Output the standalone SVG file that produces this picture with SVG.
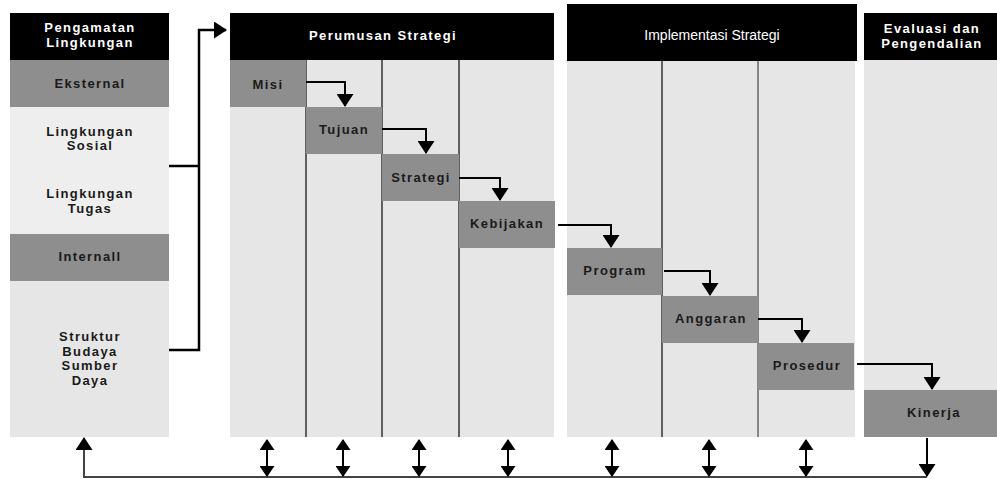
<svg xmlns="http://www.w3.org/2000/svg" width="997" height="479" viewBox="0 0 997 479">
<style>
.hdr{fill:#000}
.dk{fill:#8e8e8e}
.lt{fill:#e6e6e6}
.lt2{fill:#eeeeee}
.t{font-family:"Liberation Sans",Arial,sans-serif;font-weight:bold;font-size:13px;letter-spacing:1.4px;text-anchor:middle;fill:#1a1a1a}
.th{font-family:"Liberation Sans",Arial,sans-serif;font-weight:bold;font-size:13px;letter-spacing:1.4px;text-anchor:middle;fill:#fff}
.ti{font-family:"Liberation Sans",Arial,sans-serif;font-size:14px;text-anchor:middle;fill:#fff}
.div{stroke:#333;stroke-width:1.5;fill:none}
.c{stroke:#000;stroke-width:2;fill:none}
.cb{stroke:#000;stroke-width:2.5;fill:none}
.fb{stroke:#444;stroke-width:2;fill:none}
</style>
<defs>
<marker id="ah" markerUnits="userSpaceOnUse" markerWidth="13" markerHeight="17" refX="12" refY="8.5" orient="auto">
<path d="M0,0 L13,8.5 L0,17 z" fill="#000"/>
</marker>
<marker id="ahs" markerUnits="userSpaceOnUse" markerWidth="11" markerHeight="15" refX="10" refY="7.5" orient="auto-start-reverse">
<path d="M0,0 L11,7.5 L0,15 z" fill="#000"/>
</marker>
</defs>
<rect width="997" height="479" fill="#fff"/>

<g id="pengamatan">
<rect class="hdr" x="10" y="13" width="159" height="47"/>
<text class="th" x="90" y="32">Pengamatan</text>
<text class="th" x="90" y="47">Lingkungan</text>
<rect class="dk" x="10" y="60" width="159" height="47"/>
<text class="t" x="90" y="88">Eksternal</text>
<rect class="lt2" x="10" y="107" width="159" height="127"/>
<text class="t" x="90" y="136">Lingkungan</text>
<text class="t" x="90" y="150">Sosial</text>
<text class="t" x="90" y="198">Lingkungan</text>
<text class="t" x="90" y="213">Tugas</text>
<rect class="dk" x="10" y="234" width="159" height="47"/>
<text class="t" x="90" y="261">Internall</text>
<rect class="lt" x="10" y="281" width="159" height="156"/>
<text class="t" x="90" y="341">Struktur</text>
<text class="t" x="90" y="356">Budaya</text>
<text class="t" x="90" y="370">Sumber</text>
<text class="t" x="90" y="385">Daya</text>
</g>

<g id="perumusan">
<rect class="lt" x="230" y="60" width="324" height="377"/>
<rect class="hdr" x="230" y="13" width="324" height="47"/>
<text class="th" x="383" y="40">Perumusan Strategi</text>
<line class="div" x1="306" y1="60" x2="306" y2="437"/>
<line class="div" x1="382" y1="60" x2="382" y2="437"/>
<line class="div" x1="459" y1="60" x2="459" y2="437"/>
</g>
<g id="misi">
<rect class="dk" x="230" y="60" width="76" height="47"/>
<text class="t" x="268" y="89">Misi</text>
</g>
<g id="tujuan">
<rect class="dk" x="306" y="107" width="76" height="47"/>
<text class="t" x="344" y="134">Tujuan</text>
</g>
<g id="strategi">
<rect class="dk" x="382" y="154" width="77" height="47"/>
<text class="t" x="421" y="182">Strategi</text>
</g>
<g id="kebijakan">
<rect class="dk" x="459" y="201" width="96" height="47"/>
<text class="t" x="507" y="228">Kebijakan</text>
</g>

<g id="implementasi">
<rect class="lt" x="567" y="60" width="288" height="377"/>
<rect class="hdr" x="567" y="4" width="290" height="57"/>
<text class="ti" x="712" y="40">Implementasi Strategi</text>
<line class="div" x1="662" y1="61" x2="662" y2="437" stroke="#222"/>
<line class="div" x1="758" y1="61" x2="758" y2="437" style="stroke:#666"/>
</g>
<g id="program">
<rect class="dk" x="567" y="248" width="95" height="47"/>
<text class="t" x="615" y="275">Program</text>
</g>
<g id="anggaran">
<rect class="dk" x="662" y="296" width="96" height="47"/>
<text class="t" x="711" y="323">Anggaran</text>
</g>
<g id="prosedur">
<rect class="dk" x="758" y="343" width="96" height="47"/>
<text class="t" x="807" y="370">Prosedur</text>
</g>

<g id="evaluasi">
<rect class="lt" x="864" y="60" width="133" height="330"/>
<rect class="hdr" x="864" y="13" width="133" height="47"/>
<text class="th" x="932" y="33">Evaluasi dan</text>
<text class="th" x="932" y="48">Pengendalian</text>
</g>
<g id="kinerja">
<rect class="dk" x="864" y="390" width="133" height="47"/>
<text class="t" x="934" y="417">Kinerja</text>
</g>

<g id="connectors">
<polyline class="cb" points="169,166 199,166"/>
<polyline class="cb" points="169,350 199,350 199,30 226,30" marker-end="url(#ah)"/>
<polyline class="c" points="306,82 345,82 345,106" marker-end="url(#ah)"/>
<polyline class="c" points="382,129 426,129 426,153" marker-end="url(#ah)"/>
<polyline class="c" points="459,178 500,178 500,200" marker-end="url(#ah)"/>
<polyline class="c" points="558,225 611,225 611,247" marker-end="url(#ah)"/>
<polyline class="c" points="664,271 710,271 710,295" marker-end="url(#ah)"/>
<polyline class="c" points="758,319 802,319 802,342" marker-end="url(#ah)"/>
<polyline class="c" points="857,364 932,364 932,389" marker-end="url(#ah)"/>
<polyline class="fb" points="927,477 84,477 84,438" marker-end="url(#ah)"/>
<line class="c" x1="927" y1="438" x2="927" y2="476" marker-end="url(#ah)"/>
<line class="c" x1="267" y1="440" x2="267" y2="476" marker-start="url(#ahs)" marker-end="url(#ahs)"/>
<line class="c" x1="343" y1="440" x2="343" y2="476" marker-start="url(#ahs)" marker-end="url(#ahs)"/>
<line class="c" x1="419" y1="440" x2="419" y2="476" marker-start="url(#ahs)" marker-end="url(#ahs)"/>
<line class="c" x1="508" y1="440" x2="508" y2="476" marker-start="url(#ahs)" marker-end="url(#ahs)"/>
<line class="c" x1="612" y1="440" x2="612" y2="476" marker-start="url(#ahs)" marker-end="url(#ahs)"/>
<line class="c" x1="709" y1="440" x2="709" y2="476" marker-start="url(#ahs)" marker-end="url(#ahs)"/>
<line class="c" x1="806" y1="440" x2="806" y2="476" marker-start="url(#ahs)" marker-end="url(#ahs)"/>
</g>
</svg>
